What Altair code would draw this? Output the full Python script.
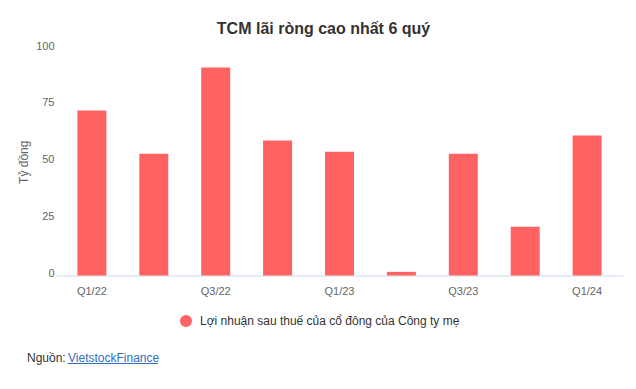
import altair as alt
import pandas as pd

quarters = ["Q1/22", "Q2/22", "Q3/22", "Q4/22", "Q1/23", "Q2/23", "Q3/23", "Q4/23", "Q1/24"]
profit = [72.5, 53.5, 91.4, 59.3, 54.4, 1.6, 53.5, 21.4, 61.5]
series_name = "Lợi nhuận sau thuế của cổ đông của Công ty mẹ"
shown_ticks = ["Q1/22", "Q3/22", "Q1/23", "Q3/23", "Q1/24"]
y_ticks = [0, 25, 50, 75, 100]

FONT = "Liberation Sans"

df = pd.DataFrame({"quarter": quarters, "value": profit, "series": [series_name] * len(quarters)})

bars = alt.Chart(df).mark_bar(size=29).encode(
    x=alt.X("quarter:N", sort=quarters, title=None,
            scale=alt.Scale(paddingInner=0.53, paddingOuter=0.345),
            axis=alt.Axis(values=shown_ticks, labelAngle=0, labelFontSize=11, labelColor="#666666",
                          labelFont=FONT, ticks=False, domainColor="#ccd6eb", domainWidth=1,
                          labelPadding=10, grid=False)),
    y=alt.Y("value:Q", title="Tỷ đồng",
            scale=alt.Scale(domain=[0, 100], nice=False),
            axis=alt.Axis(values=y_ticks, labelFontSize=11, labelColor="#666666", labelFont=FONT,
                          ticks=False, domain=False, grid=False, labelPadding=2, labelOffset=-2,
                          titleFont=FONT, titleFontSize=12, titleFontWeight="normal",
                          titleColor="#666666", titlePadding=5)),
    color=alt.Color("series:N", scale=alt.Scale(range=["#ff6262"]),
                    legend=alt.Legend(title=None, orient="none", legendX=124, legendY=267,
                                      symbolType="circle", symbolSize=144, symbolStrokeWidth=0,
                                      labelFontSize=12, labelColor="#333333", labelFont=FONT,
                                      labelOffset=8, padding=0, labelLimit=400)),
)

src = pd.DataFrame({"a": [1]})
src_label = alt.Chart(src).mark_text(align="left", baseline="middle", fontSize=12, font=FONT,
                                     color="#333333", text="Nguồn:").encode(
    x=alt.value(-29), y=alt.value(310))
src_link = alt.Chart(src).mark_text(align="left", baseline="middle", fontSize=12, font=FONT,
                                    color="#2f6ec0", text="VietstockFinance").encode(
    x=alt.value(12), y=alt.value(310))
underline = alt.Chart(src).mark_rule(color="#2f6ec0", strokeWidth=1).encode(
    x=alt.value(12), x2=alt.value(102), y=alt.value(315.5))

chart = alt.layer(bars, src_label, src_link, underline).properties(
    width=567, height=227.5,
    autosize=alt.AutoSizeParams(type="none"),
    padding={"left": 56, "top": 48, "right": 13, "bottom": 113.5},
    title=alt.TitleParams("TCM lãi ròng cao nhất 6 quý", fontSize=16, font=FONT, fontWeight="bold",
                          color="#333333", anchor="middle", dx=-16, offset=17, dy=27,
                          baseline="alphabetic"),
).configure(background="white", view=alt.ViewConfig(stroke=None))

chart.save("out.html", embed_options={"renderer": "svg", "actions": False})
